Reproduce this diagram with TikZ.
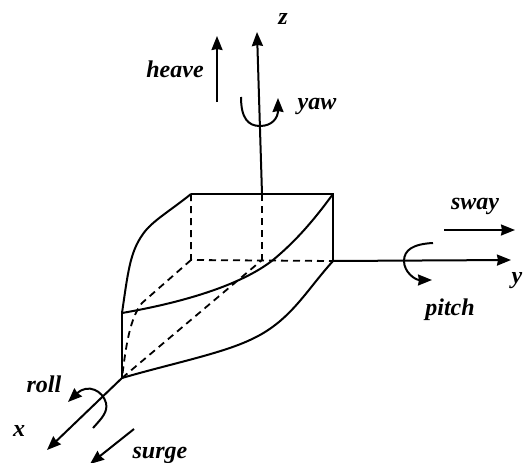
\documentclass[tikz,border=0pt]{standalone}
\usepackage{fontspec}
\setmainfont{Liberation Serif}
\usetikzlibrary{positioning,arrows.meta}
\tikzset{
  axis/.style={-{Stealth[length=14pt,width=11pt,inset=1pt]},line width=2pt,draw=black},
  motion/.style={-{Stealth[length=14pt,width=11pt,inset=1pt]},line width=2pt,draw=black},
  hull/.style={line width=2pt,draw=black},
  hidden/.style={line width=1.8pt,draw=black,dash pattern=on 7pt off 5pt},
  dof/.style={font=\fontsize{24}{27}\selectfont\bfseries\itshape,inner sep=0pt},
  axlabel/.style={font=\fontsize{24}{27}\selectfont\bfseries\itshape,inner sep=0pt}
}
\begin{document}
\begin{tikzpicture}[x=1pt,y=-1pt]
  \useasboundingbox (0,0) rectangle (523,463);
  \clip (0,0) rectangle (523,463);
  % box corners
  \coordinate (topback) at (191,194);
  \coordinate (topright) at (333,194);
  \coordinate (lowright) at (333,261);
  \coordinate (lowback) at (191,260);
  \coordinate (zbase) at (262,194);
  \coordinate (zlow) at (262,260);
  \coordinate (bowup) at (122,313);
  \coordinate (bowlow) at (122,378);
  \coordinate (ztip) at (257,32);
  \coordinate (ytip) at (511,260);
  \coordinate (xtip) at (47,450);
  % hidden edges
  \draw[hidden] (topback) -- (lowback) -- (lowright);
  \draw[hidden] (zbase) -- (zlow);
  \draw[hidden] (lowback) -- (142,303) .. controls (130,318) and (126,345) .. (bowlow);
  \draw[hidden] (bowlow) -- (zlow);
  % hull
  \draw[hull] (topback) -- (topright) -- (lowright);
  \draw[hull] (topback) .. controls (170,211) and (152,221) .. (143,234) .. controls (130,252) and (128,272) .. (bowup);
  \draw[hull] (bowup) .. controls (180,303) and (240,286) .. (273,260) .. controls (296,241) and (314,220) .. (topright);
  \draw[hull] (bowlow) .. controls (170,364) and (220,354) .. (250,340) .. controls (290,322) and (305,292) .. (lowright);
  \draw[hull] (bowup) -- (bowlow);
  % axes
  \draw[axis] (zbase) -- (ztip);
  \draw[axis] (lowright) -- (ytip);
  \draw[axis] (bowlow) -- (xtip);
  % translations
  \coordinate (heavefrom) at (217,102);
  \coordinate (heaveto) at (217,36);
  \coordinate (swayfrom) at (444,230);
  \coordinate (swayto) at (515,230);
  \coordinate (surgefrom) at (134,429);
  \coordinate (surgeto) at (90,464);
  \draw[motion] (heavefrom) -- (heaveto);
  \draw[motion] (swayfrom) -- (swayto);
  \draw[motion] (surgefrom) -- (surgeto);
  % rotations
  \coordinate (yawfrom) at (241,97);
  \coordinate (yawto) at (278,98);
  \coordinate (pitchfrom) at (433,243);
  \coordinate (pitchto) at (432,280);
  \coordinate (rollfrom) at (93,428);
  \coordinate (rollto) at (68,402);
  \draw[motion] (yawfrom) .. controls (241,118) and (248,126) .. (260,126) .. controls (272,126) and (278,118) .. (yawto);
  \draw[motion] (pitchfrom) .. controls (413,244) and (404,250) .. (404,261) .. controls (404,272) and (415,280) .. (pitchto);
  \draw[motion] (rollfrom) .. controls (102,418) and (108,412) .. (106,403) .. controls (103,391) and (88,383) .. (rollto);
  % labels
  \node[axlabel] (zlabel) at (283,19) {z};
  \node[axlabel,anchor=east] (ylabel) at (522.5,281) {y};
  \node[axlabel] (xlabel) at (19,431) {x};
  \node[dof] (heave) at (175,69) {heave};
  \node[dof] (yaw) at (317,106) {yaw};
  \node[dof] (sway) at (475,206) {sway};
  \node[dof] (pitch) at (450,310) {pitch};
  \node[dof] (roll) at (44,384) {roll};
  \node[dof] (surge) at (160,455) {surge};
\end{tikzpicture}
\end{document}
